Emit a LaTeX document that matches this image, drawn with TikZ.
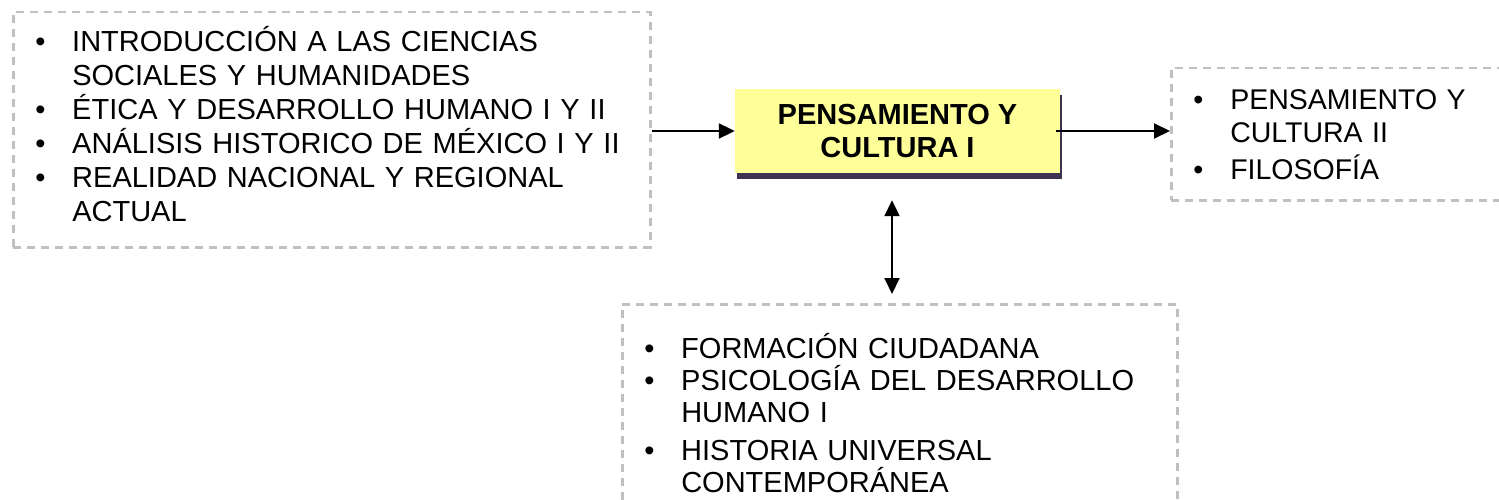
\documentclass[tikz,border=0pt]{standalone}
\usepackage{fontspec}
\setmainfont{Liberation Sans}
\usetikzlibrary{arrows.meta, positioning, shadows}
\definecolor{boxyellow}{RGB}{255,255,153}
\definecolor{shadowpurple}{RGB}{62,50,82}
\definecolor{dashgray}{RGB}{192,192,192}
\newcommand{\itm}{\makebox[37pt][l]{•}}
\newcommand{\cnt}{\hspace*{37pt}}

\begin{document}
\begin{tikzpicture}[
	  x=1pt, y=1pt,
	  font=\fontsize{29}{33.5}\selectfont,
	  list/.style={
	    draw=dashgray,
	    dash pattern=on 8pt off 6pt,
	    line width=2.5pt,
	    align=left,
	    inner xsep=22pt,
	    anchor=north west
	  },
	  core/.style={
	    fill=boxyellow,
	    align=center,
	    font=\fontsize{29}{33}\selectfont\bfseries,
	    minimum width=325pt,
	    minimum height=84pt,
	    drop shadow={shadow xshift=2pt, shadow yshift=-6pt, fill=shadowpurple, opacity=1}
	  },
	  arrow/.style={-{Triangle[length=16pt, width=15pt]}, line width=2pt},
	  twoway/.style={{Triangle[length=16pt, width=15pt]}-{Triangle[length=16pt, width=15pt]}, line width=2pt}
	]
	\useasboundingbox (0,0) rectangle (1499,-500);
	
	\node[core] (course) at (897.5,-131) {PENSAMIENTO Y\\CULTURA I};
	\node[list, font=\fontsize{29}{34}\selectfont, text width=593pt, minimum height=235pt, text depth=182pt] (before) at (12,-11)
	  {\itm INTRODUCCIÓN A LAS CIENCIAS\\ \cnt SOCIALES Y HUMANIDADES\\
	   \itm ÉTICA Y DESARROLLO HUMANO I Y II\\
	   \itm ANÁLISIS HISTORICO DE MÉXICO I Y II\\
	   \itm REALIDAD NACIONAL Y REGIONAL\\ \cnt ACTUAL};
	\node[list, font=\fontsize{28.5}{33.5}\selectfont, text width=316pt, minimum height=132pt] (after) at (1170,-67)
	  {\itm PENSAMIENTO Y\\ \cnt CULTURA II\\[3pt]
	   \itm FILOSOFÍA};
	\node[list, font=\fontsize{29}{32}\selectfont, text width=511pt, minimum height=228pt, text depth=144pt] (related) at (621,-303)
	  {\itm FORMACIÓN CIUDADANA\\
	   \itm PSICOLOGÍA DEL DESARROLLO\\ \cnt HUMANO I\\[6pt]
	   \itm HISTORIA UNIVERSAL\\ \cnt CONTEMPORÁNEA};
	
	\coordinate (link) at ([xshift=-5.5pt]course.south);
	
	\draw[arrow] (before.east |- course.west) -- (course.west);
	\draw[arrow] ([xshift=-4pt]course.east) -- (course.east -| after.west);
	\draw[twoway, shorten <=27pt, shorten >=9pt] (link) -- (link |- related.north);
	
	\end{tikzpicture}
\end{document}
